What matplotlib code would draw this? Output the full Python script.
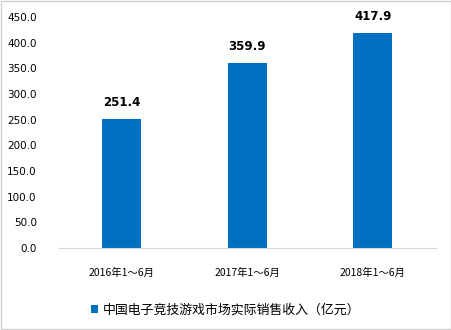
import matplotlib.pyplot as plt
from matplotlib.patches import Rectangle

plt.rcParams['font.family'] = ['Noto Sans CJK SC', 'DejaVu Sans']

categories = ['2016年1～6月', '2017年1～6月', '2018年1～6月']
revenue = [251.4, 359.9, 417.9]
series_name = '中国电子竞技游戏市场实际销售收入（亿元）'
bar_color = '#0070C0'

fig = plt.figure(figsize=(4.52, 3.30), dpi=100)
ax = fig.add_axes([0.1305, 0.2485, 0.833, 0.70])

x = list(range(len(categories)))
bars = ax.bar(x, revenue, width=0.31, color=bar_color, label=series_name)
for xi, v in zip(x, revenue):
    ax.text(xi, v + 20, f'{v:.1f}', ha='center', va='bottom',
            fontsize=8.5, fontweight='bold', family='DejaVu Sans')

ax.set_xlim(-0.5, 2.5)
ax.set_ylim(0, 450)
ax.set_yticks(range(0, 451, 50))
ax.set_yticklabels([f'{t:.1f}' for t in range(0, 451, 50)], fontsize=7.5,
                   family='DejaVu Sans')
ax.set_xticks(x)
ax.set_xticklabels(categories, fontsize=7.5)
ax.tick_params(axis='both', length=0, colors='#000000')
ax.tick_params(axis='x', pad=14)
ax.tick_params(axis='y', pad=16)
for s in ['top', 'right', 'left']:
    ax.spines[s].set_visible(False)
ax.spines['bottom'].set_color('#d9d9d9')

fig.legend(handles=[bars], labels=[series_name], loc='center left',
           bbox_to_anchor=(0.175, 0.06), frameon=False, fontsize=9.3,
           handlelength=0.6, handleheight=0.6, handletextpad=0.3)

fig.patches.append(Rectangle((0.002, 0.003), 0.995, 0.994, transform=fig.transFigure,
                             fill=False, edgecolor='#d0d0d0', linewidth=1))

fig.savefig('out.png', dpi=100)
plt.close(fig)
